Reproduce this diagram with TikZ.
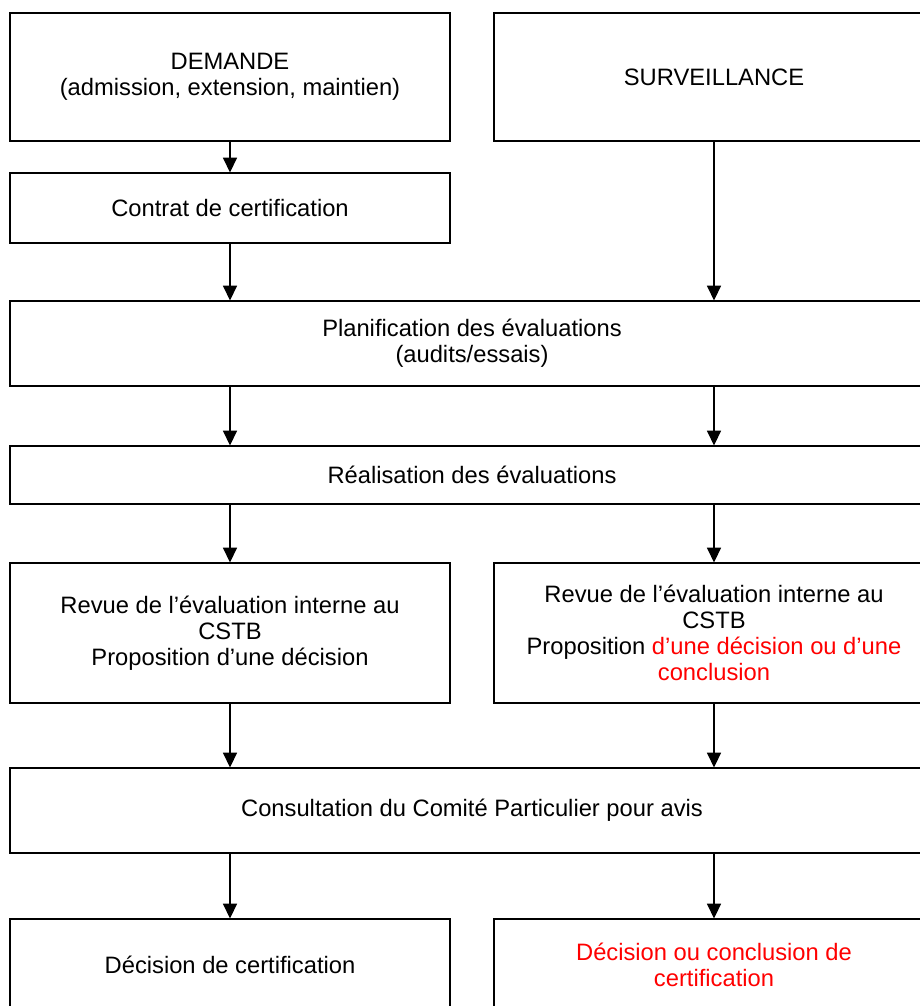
\documentclass[tikz,border=0pt]{standalone}
\usepackage{fontspec}
\setmainfont{Liberation Sans}
\usetikzlibrary{arrows.meta, positioning}

\begin{document}
\begin{tikzpicture}[x=0.75pt, y=-0.75pt,
    box/.style={draw, line width=0.9pt, align=center, minimum width=330pt,
        font=\fontsize{17.8pt}{19.5pt}\selectfont},
    topbox/.style={box, line width=1.5pt},
    widebox/.style={box, minimum width=693pt},
    flow/.style={-{Triangle[length=11pt, width=10.5pt]}, line width=1.1pt}]
        \useasboundingbox (0,0) rectangle (920,1006);
        \clip (0,0) rectangle (920,1006);
        % Define the nodes
        \node[topbox, minimum height=96pt] (dem) at (230,77) {DEMANDE\\(admission, extension, maintien)};
        \node[topbox, minimum height=96pt] (surv) at (714,77) {SURVEILLANCE};
        \node[box, minimum height=52.5pt] (contrat) at (230,208) {Contrat de certification};
        \node[widebox, minimum height=63.75pt] (planif) at (472,343.5) {Planification des évaluations\\(audits/essais)};
        \node[widebox, minimum height=43.5pt] (real) at (472,475) {Réalisation des évaluations};
        \node[box, minimum height=105pt] (revL) at (230,633) {Revue de l’évaluation interne au\\CSTB\\Proposition d’une décision};
        \node[box, minimum height=105pt] (revR) at (714,633) {Revue de l’évaluation interne au\\CSTB\\Proposition \textcolor{red}{d’une décision ou d’une}\\\textcolor{red}{conclusion}};
        \node[widebox, minimum height=63.75pt] (consult) at (472,810.5) {Consultation du Comité Particulier pour avis};
        \node[box, minimum height=69pt] (decL) at (230,965) {Décision de certification};
        \node[box, minimum height=69pt, text=red] (decR) at (714,965) {Décision ou conclusion de\\certification};
        % Define the transitions
        \draw[flow] (dem) -- (contrat);
        \draw[flow] (contrat) -- (contrat.south |- planif.north);
        \draw[flow] (surv) -- (surv.south |- planif.north);
        \draw[flow] (planif.south -| contrat) -- (real.north -| contrat);
        \draw[flow] (planif.south -| surv) -- (real.north -| surv);
        \draw[flow] (real.south -| revL) -- (revL);
        \draw[flow] (real.south -| revR) -- (revR);
        \draw[flow] (revL) -- (revL.south |- consult.north);
        \draw[flow] (revR) -- (revR.south |- consult.north);
        \draw[flow] (consult.south -| decL) -- (decL);
        \draw[flow] (consult.south -| decR) -- (decR);
    \end{tikzpicture}
\end{document}
